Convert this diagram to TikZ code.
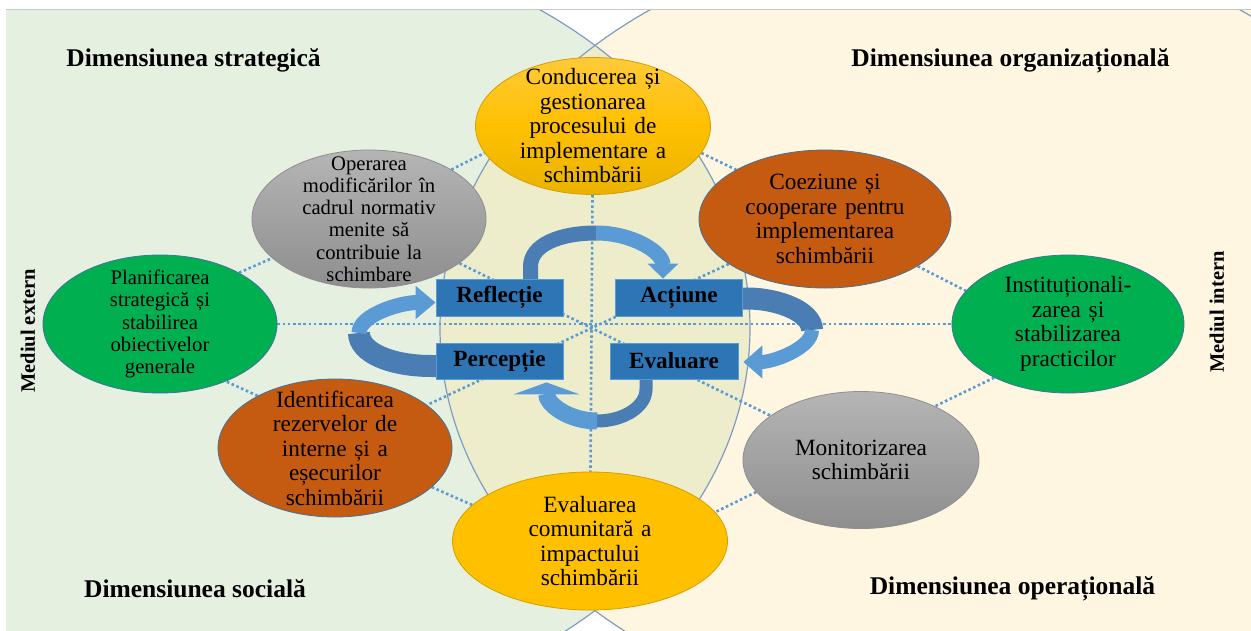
\documentclass[tikz,border=0pt]{standalone}
\usepackage{fontspec}
\setmainfont{Liberation Serif}
\usetikzlibrary{shapes.geometric,arrows.meta,calc}

\definecolor{bggreen}{HTML}{E6F0E0}
\definecolor{bgcream}{HTML}{FFF6E1}
\definecolor{lensfill}{HTML}{EDEDCC}
\definecolor{lensline}{HTML}{7F9CC0}
\definecolor{dotblue}{HTML}{5B9BD5}
\definecolor{ribdark}{HTML}{4A7DB3}
\definecolor{boxblue}{HTML}{2E75B6}
\definecolor{edgeblue}{HTML}{41719C}
\definecolor{goldA}{HTML}{FFCA3A}
\definecolor{goldB}{HTML}{EAB200}
\definecolor{gold}{HTML}{FFC000}
\definecolor{goldedge}{HTML}{D4A000}
\definecolor{rust}{HTML}{C55A11}
\definecolor{leaf}{HTML}{00B050}
\definecolor{greyA}{HTML}{B5B5B5}
\definecolor{greyB}{HTML}{8E8E8E}

\pgfdeclarelayer{paper}
\pgfdeclarelayer{links}
\pgfsetlayers{paper,links,main}

\begin{document}
\begin{tikzpicture}[x=1pt,y=-1pt,
  bubble/.style={ellipse, draw=edgeblue, line width=0.8pt, inner sep=-30pt, align=center,
    text width=190pt, font=\fontsize{23.3}{24.5}\selectfont, minimum width=234pt, minimum height=138pt},
  smalltext/.style={font=\fontsize{20.7}{22.3}\selectfont},
  goldbub/.style={bubble, draw=goldedge, top color=goldA, bottom color=goldB, middle color=gold},
  flatbub/.style={bubble, draw=goldedge, fill=gold},
  rustbub/.style={bubble, fill=rust},
  leafbub/.style={bubble, fill=leaf},
  greybub/.style={bubble, draw=greyB, top color=greyA, bottom color=greyB},
  stage/.style={rectangle, draw=dotblue, line width=0.8pt, fill=boxblue, inner sep=0pt,
    font=\fontsize{23.2}{26}\selectfont\bfseries, minimum width=127pt, minimum height=37pt},
  dimlabel/.style={anchor=base, inner sep=0pt, font=\fontsize{25.5}{30}\selectfont\bfseries},
  sidelabel/.style={rotate=90, inner sep=0pt, font=\fontsize{20.5}{24}\selectfont\bfseries},
  spoke/.style={draw=dotblue, line width=2.6pt, dash pattern=on 2.6pt off 2.6pt},
  ribtail/.style={draw=ribdark, line cap=butt},
  ribhead/.style={draw=dotblue, line cap=butt}]
\useasboundingbox (0,0) rectangle (1251,630);

% paper: two halves and the lens
\begin{pgfonlayer}{paper}
  \fill[white] (0,0) rectangle (1251,630);
  \begin{scope}
    \clip (6,9) rectangle (1251,630);
    \fill[bggreen] (245,328) ellipse [x radius=505pt, y radius=392pt];
    \fill[bggreen] (0,0) rectangle (245,630);
    \fill[bgcream] (945,328) ellipse [x radius=505pt, y radius=392pt];
    \fill[bgcream] (945,0) rectangle (1251,630);
    \begin{scope}
      \clip (245,328) ellipse [x radius=505pt, y radius=392pt];
      \fill[lensfill] (945,328) ellipse [x radius=505pt, y radius=392pt];
    \end{scope}
    \draw[lensline, line width=1.2pt] (245,328) ellipse [x radius=505pt, y radius=392pt];
    \draw[lensline, line width=1.2pt] (945,328) ellipse [x radius=505pt, y radius=392pt];
  \end{scope}
  \draw[black!22, line width=1pt] (6,9) -- (1251,9);
\end{pgfonlayer}

% bubbles
\node[goldbub, minimum width=235pt, minimum height=137pt] (lead) at (593,126)
  {Conducerea și\\ gestionarea\\ procesului de\\ implementare a\\ schimbării};
\node[greybub, smalltext] (norm) at (369,219)
  {Operarea\\ modificărilor în\\ cadrul normativ\\ menite să\\ contribuie la\\ schimbare};
\node[rustbub, minimum width=252pt] (coop) at (825,219)
  {Coeziune și\\ cooperare pentru\\ implementarea\\ schimbării};
\node[leafbub, smalltext] (plan) at (160,324)
  {Planificarea\\ strategică și\\ stabilirea\\ obiectivelor\\ generale};
\node[leafbub, minimum width=232pt] (inst) at (1068,324)
  {Instituționali-\\ zarea și\\ stabilizarea\\ practicilor};
\node[rustbub] (ident) at (335,448)
  {Identificarea\\ rezervelor de\\ interne și a\\ eșecurilor\\ schimbării};
\node[greybub, minimum width=236pt, minimum height=137pt] (monit) at (861,460)
  {Monitorizarea\\ schimbării};
\node[flatbub, minimum width=275pt] (impact) at (590,541)
  {Evaluarea\\ comunitară a\\ impactului\\ schimbării};

% cycle boxes
\node[stage] (refl) at (499.5,297.5) {Reflecție};
\node[stage] (act) at (679,297.5) {Acțiune};
\node[stage, minimum height=36pt] (perc) at (499.5,361) {Percepție};
\node[stage, minimum width=128pt, minimum height=36pt] (evalbox) at (674,361) {Evaluare};

% labels
\node[dimlabel] (strat) at (193.5,66.5) {Dimensiunea strategică};
\node[dimlabel] (organiz) at (1010.5,66) {Dimensiunea organizațională};
\node[dimlabel] (social) at (195,597) {Dimensiunea socială};
\node[dimlabel] (operat) at (1012.5,594) {Dimensiunea operațională};
\node[sidelabel] (extern) at (28,331) {Mediul extern};
\node[sidelabel] (intern) at (1217,312) {Mediul intern};

\begin{pgfonlayer}{links}
  % dotted ring and spokes
  \foreach \a/\b in {plan.33/norm.202, norm.31/lead.194, lead.346/coop.151, coop.333/inst.162,
      inst.216/monit.36, monit.197/impact.13, impact.163/ident.338, ident.146/plan.319}
    \draw[spoke] (\a) -- (\b);
  \draw[spoke] (plan) -- (inst);
  \draw[spoke] (lead) -- (impact);
  \draw[spoke] (norm) -- (monit);
  \draw[spoke] (coop) -- (ident);

  % curved arrows of the cycle
  \coordinate (topturn) at (596,233);
  \coordinate (rightturn) at (812,330);
  \coordinate (botturn) at (597,421);
  \coordinate (leftturn) at (359,333);

  \draw[ribtail, line width=15pt] ($(refl.north)+(31,2)$) -- ++(0,-14)
    .. controls +(0,-22) and +(-36,0) .. (topturn);
  \draw[ribhead, line width=15pt, -{Triangle[width=30pt,length=15pt]}] (topturn)
    .. controls +(37,0) and +(0,-26) .. ($(act.north)+(-16,0)$);

  \draw[ribtail, line width=22pt] ($(act.east)+(-6,1)$) -- ++(10,0)
    .. controls +(32,0) and +(0,-18) .. (rightturn);
  \draw[ribhead, line width=14pt, -{Triangle[width=32pt,length=19pt]}] (rightturn)
    .. controls +(0,18) and +(30,0) .. ($(evalbox.east)+(5,1)$);

  \draw[ribtail, line width=13pt] ($(evalbox.south)+(-28,-4)$) -- ++(0,14)
    .. controls +(0,17) and +(27,0) .. (botturn);
  \draw[ribhead, line width=17pt, -{Triangle[width=66pt,length=12pt]}] (botturn)
    .. controls +(-28,0) and +(0,22) .. ($(perc.south)+(47,3)$);

  \draw[ribtail, line width=22pt] ($(perc.west)+(6,5)$) -- ++(-10,0)
    .. controls +(-40,0) and +(0,20) .. (leftturn);
  \draw[ribhead, line width=15pt, -{Triangle[width=32pt,length=20pt]}] (leftturn)
    .. controls +(0,-18) and +(-35,0) .. ($(refl.west)+(0,5)$);
\end{pgfonlayer}
\end{tikzpicture}
\end{document}
